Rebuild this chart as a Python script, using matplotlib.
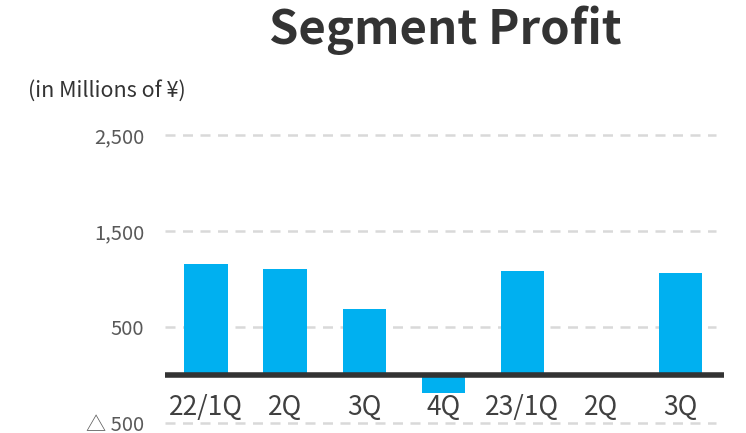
import matplotlib
matplotlib.use("Agg")
import matplotlib.pyplot as plt

plt.rcParams['font.family'] = ['Noto Sans CJK JP', 'DejaVu Sans']

categories = ["22/1Q", "2Q", "3Q", "4Q", "23/1Q", "2Q", "3Q"]
profit = [1155, 1105, 690, -190, 1080, 0, 1060]
yticks = [-500, 500, 1500, 2500]
ytick_labels = ["△ 500", "500", "1,500", "2,500"]

W, H = 746, 433
fig = plt.figure(figsize=(W / 100, H / 100), dpi=100)

# axes in pixel geometry
left, right = 165, 724
ymin, ymax = -600, 2600
px_per = 96 / 1000
top_px = 375 - ymax * px_per
bot_px = 375 - ymin * px_per
ax = fig.add_axes([left / W, 1 - bot_px / H, (right - left) / W, (bot_px - top_px) / H])
ax.set_ylim(ymin, ymax)
ax.set_xlim(-0.52, 6.55)

for y in yticks:
    ax.axhline(y, color="#d9d9d9", lw=1.8, ls=(0, (4, 3)), zorder=0, xmin=0, xmax=0.985)

x = list(range(len(categories)))
ax.bar(x, profit, width=0.55, color="#00B0F0", zorder=2)
ax.axhline(0, color="#333333", lw=4, zorder=3)

for xi, lab in zip(x, categories):
    ax.text(xi, -340, lab, ha="center", va="center", fontsize=19, color="#404040")

ax.set_yticks(yticks)
ax.set_yticklabels(ytick_labels, fontsize=14.5, color="#595959")
ax.tick_params(axis="y", length=0, pad=15)
ax.set_xticks([])
for s in ax.spines.values():
    s.set_visible(False)

fig.text(445 / W, 1 - 30 / H, "Segment Profit", ha="center", va="center",
         fontsize=34, fontweight="bold", color="#333333")
fig.text(28 / W, 1 - 91 / H, "(in Millions of ¥)", ha="left", va="center",
         fontsize=15.5, color="#333333")

fig.savefig("out.png", dpi=100)
